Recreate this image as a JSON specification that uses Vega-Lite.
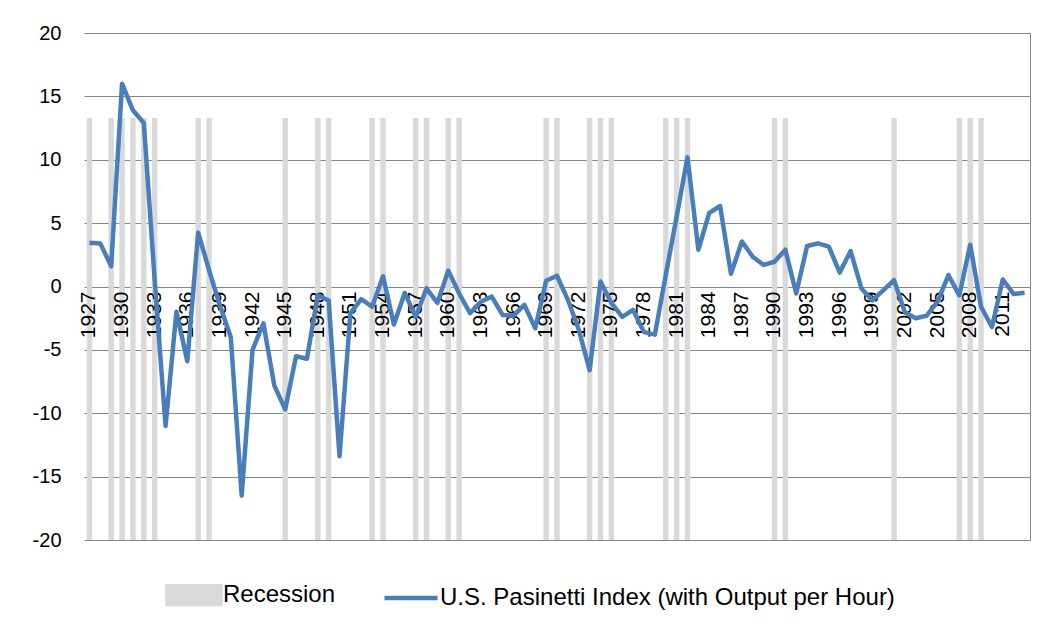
{
  "$schema": "https://vega.github.io/schema/vega-lite/v6.json",
  "autosize": "none",
  "width": 946,
  "height": 507,
  "padding": {"left": 84, "top": 33, "right": 24, "bottom": 91},
  "background": "white",
  "config": {"view": {"stroke": null}},
  "data": {"values": [
    {"year": 1927, "value": 3.45, "rec": 13.3},
    {"year": 1928, "value": 3.4, "rec": null},
    {"year": 1929, "value": 1.6, "rec": 13.3},
    {"year": 1930, "value": 16.0, "rec": 13.3},
    {"year": 1931, "value": 13.9, "rec": 13.3},
    {"year": 1932, "value": 12.9, "rec": 13.3},
    {"year": 1933, "value": 0.5, "rec": 13.3},
    {"year": 1934, "value": -11.0, "rec": null},
    {"year": 1935, "value": -2.0, "rec": null},
    {"year": 1936, "value": -5.9, "rec": null},
    {"year": 1937, "value": 4.25, "rec": 13.3},
    {"year": 1938, "value": 1.3, "rec": 13.3},
    {"year": 1939, "value": -1.5, "rec": null},
    {"year": 1940, "value": -4.0, "rec": null},
    {"year": 1941, "value": -16.5, "rec": null},
    {"year": 1942, "value": -5.0, "rec": null},
    {"year": 1943, "value": -2.9, "rec": null},
    {"year": 1944, "value": -7.8, "rec": null},
    {"year": 1945, "value": -9.7, "rec": 13.3},
    {"year": 1946, "value": -5.5, "rec": null},
    {"year": 1947, "value": -5.7, "rec": null},
    {"year": 1948, "value": -0.7, "rec": 13.3},
    {"year": 1949, "value": -1.1, "rec": 13.3},
    {"year": 1950, "value": -13.4, "rec": null},
    {"year": 1951, "value": -2.1, "rec": null},
    {"year": 1952, "value": -1.0, "rec": null},
    {"year": 1953, "value": -1.6, "rec": 13.3},
    {"year": 1954, "value": 0.8, "rec": 13.3},
    {"year": 1955, "value": -3.0, "rec": null},
    {"year": 1956, "value": -0.5, "rec": null},
    {"year": 1957, "value": -2.4, "rec": 13.3},
    {"year": 1958, "value": -0.15, "rec": 13.3},
    {"year": 1959, "value": -1.3, "rec": null},
    {"year": 1960, "value": 1.25, "rec": 13.3},
    {"year": 1961, "value": -0.55, "rec": 13.3},
    {"year": 1962, "value": -2.1, "rec": null},
    {"year": 1963, "value": -1.2, "rec": null},
    {"year": 1964, "value": -0.8, "rec": null},
    {"year": 1965, "value": -2.25, "rec": null},
    {"year": 1966, "value": -2.3, "rec": null},
    {"year": 1967, "value": -1.45, "rec": null},
    {"year": 1968, "value": -3.3, "rec": null},
    {"year": 1969, "value": 0.45, "rec": 13.3},
    {"year": 1970, "value": 0.85, "rec": 13.3},
    {"year": 1971, "value": -1.05, "rec": null},
    {"year": 1972, "value": -3.4, "rec": null},
    {"year": 1973, "value": -6.6, "rec": 13.3},
    {"year": 1974, "value": 0.4, "rec": 13.3},
    {"year": 1975, "value": -1.3, "rec": 13.3},
    {"year": 1976, "value": -2.4, "rec": null},
    {"year": 1977, "value": -1.85, "rec": null},
    {"year": 1978, "value": -3.6, "rec": null},
    {"year": 1979, "value": -3.8, "rec": null},
    {"year": 1980, "value": 0.9, "rec": 13.3},
    {"year": 1981, "value": 5.5, "rec": 13.3},
    {"year": 1982, "value": 10.2, "rec": 13.3},
    {"year": 1983, "value": 2.9, "rec": null},
    {"year": 1984, "value": 5.8, "rec": null},
    {"year": 1985, "value": 6.35, "rec": null},
    {"year": 1986, "value": 1.0, "rec": null},
    {"year": 1987, "value": 3.55, "rec": null},
    {"year": 1988, "value": 2.35, "rec": null},
    {"year": 1989, "value": 1.7, "rec": null},
    {"year": 1990, "value": 1.95, "rec": 13.3},
    {"year": 1991, "value": 2.9, "rec": 13.3},
    {"year": 1992, "value": -0.55, "rec": null},
    {"year": 1993, "value": 3.2, "rec": null},
    {"year": 1994, "value": 3.4, "rec": null},
    {"year": 1995, "value": 3.15, "rec": null},
    {"year": 1996, "value": 1.1, "rec": null},
    {"year": 1997, "value": 2.8, "rec": null},
    {"year": 1998, "value": -0.15, "rec": null},
    {"year": 1999, "value": -1.1, "rec": null},
    {"year": 2000, "value": -0.3, "rec": null},
    {"year": 2001, "value": 0.5, "rec": 13.3},
    {"year": 2002, "value": -2.05, "rec": null},
    {"year": 2003, "value": -2.5, "rec": null},
    {"year": 2004, "value": -2.3, "rec": null},
    {"year": 2005, "value": -1.2, "rec": null},
    {"year": 2006, "value": 0.9, "rec": null},
    {"year": 2007, "value": -0.7, "rec": 13.3},
    {"year": 2008, "value": 3.3, "rec": 13.3},
    {"year": 2009, "value": -1.6, "rec": 13.3},
    {"year": 2010, "value": -3.2, "rec": null},
    {"year": 2011, "value": 0.55, "rec": null},
    {"year": 2012, "value": -0.6, "rec": null},
    {"year": 2013, "value": -0.5, "rec": null}
  ]},
  "resolve": {"axis": {"y": "independent"}},
  "layer": [
    {
      "transform": [{"filter": "datum.rec != null"}],
      "mark": {"type": "bar", "width": {"band": 0.5}},
      "encoding": {
        "x": {
          "field": "year", "type": "ordinal",
          "scale": {"paddingInner": 0, "paddingOuter": 0, "domain": [1927,1928,1929,1930,1931,1932,1933,1934,1935,1936,1937,1938,1939,1940,1941,1942,1943,1944,1945,1946,1947,1948,1949,1950,1951,1952,1953,1954,1955,1956,1957,1958,1959,1960,1961,1962,1963,1964,1965,1966,1967,1968,1969,1970,1971,1972,1973,1974,1975,1976,1977,1978,1979,1980,1981,1982,1983,1984,1985,1986,1987,1988,1989,1990,1991,1992,1993,1994,1995,1996,1997,1998,1999,2000,2001,2002,2003,2004,2005,2006,2007,2008,2009,2010,2011,2012,2013]},
          "axis": null
        },
        "y": {
          "field": "rec", "type": "quantitative",
          "scale": {"domain": [-20, 20], "nice": false, "zero": false},
          "axis": {
            "title": null, "values": [-20,-15,-10,-5,0,5,10,15,20],
            "labelExpr": "datum.value < 0 ? '-' + abs(datum.value) : '' + datum.value",
            "labelFont": "Liberation Sans", "labelFontSize": 20,
            "labelColor": "#000000", "labelPadding": 23, "ticks": false, "domain": false,
            "grid": true, "gridColor": "#878787", "gridWidth": 1
          }
        },
        "y2": {"datum": -20},
        "color": {
          "datum": "Recession", "type": "nominal",
          "scale": {"domain": ["Recession", "U.S. Pasinetti Index (with Output per Hour)"], "range": ["#d9d9d9", "#4a7ebb"]},
          "legend": {
            "title": null, "orient": "none", "direction": "horizontal",
            "legendX": 90, "legendY": 542,
            "labelFont": "Liberation Sans", "labelFontSize": 24, "labelLimit": 800,
            "labelColor": "#000000", "labelOffset": 9, "columnPadding": 39,
            "symbolSize": 1250,
            "encode": {
              "symbols": {"update": {
                "shape": {"signal": "datum.value === 'Recession' ? 'M-1.5,-0.5H1.5V0.5H-1.5Z' : 'M-1.5,0H1.5'"},
                "size": {"value": 1250},
                "fill": {"signal": "datum.value === 'Recession' ? '#d9d9d9' : 'transparent'"},
                "stroke": {"signal": "datum.value === 'Recession' ? 'transparent' : '#4a7ebb'"},
                "strokeWidth": {"value": 4.5},
                "opacity": {"value": 1}
              }}
            }
          }
        }
      }
    },
    {
      "transform": [{"filter": "(datum.year - 1927) % 3 == 0 && datum.year <= 2011"}],
      "mark": {"type": "text", "angle": 270, "align": "right", "baseline": "middle", "dx": -5, "font": "Liberation Sans", "fontSize": 21, "color": "#000000"},
      "encoding": {
        "x": {"field": "year", "type": "ordinal", "axis": null},
        "y": {"datum": 0, "type": "quantitative", "axis": null},
        "text": {"field": "year", "type": "nominal"}
      }
    },
    {
      "mark": {"type": "line", "strokeWidth": 4.5, "strokeJoin": "round"},
      "encoding": {
        "x": {"field": "year", "type": "ordinal", "axis": null},
        "y": {
          "field": "value", "type": "quantitative",
          "axis": {"orient": "right", "title": null, "labels": false, "ticks": false, "grid": false, "domain": true, "domainColor": "#878787", "domainWidth": 1}
        },
        "color": {"datum": "U.S. Pasinetti Index (with Output per Hour)", "type": "nominal"}
      }
    }
  ]
}
